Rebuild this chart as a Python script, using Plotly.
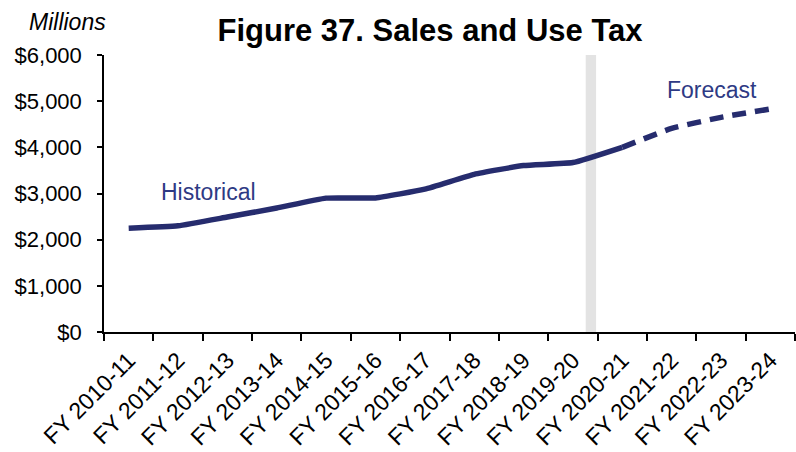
import plotly.graph_objects as go

# Fiscal years on the category axis
years = ["FY 2010-11", "FY 2011-12", "FY 2012-13", "FY 2013-14", "FY 2014-15",
         "FY 2015-16", "FY 2016-17", "FY 2017-18", "FY 2018-19", "FY 2019-20",
         "FY 2020-21", "FY 2021-22", "FY 2022-23", "FY 2023-24"]

# Sales and use tax revenue, $ millions
historical_years = years[:11]
historical_vals = [2250, 2300, 2490, 2685, 2900, 2905, 3095, 3415, 3605, 3670, 4000]
forecast_years = years[10:]
forecast_vals = [4000, 4410, 4650, 4830]

y_ticks = [0, 1000, 2000, 3000, 4000, 5000, 6000]
y_tick_text = ["${:,}".format(v) for v in y_ticks]

NAVY = "#262C6E"
LABEL_NAVY = "#2E3A84"
FONT = "Arial, Liberation Sans, sans-serif"

W, H = 796, 452
M_L, M_R, M_T, M_B = 103.5, 1, 54.7, 119.5
PLOT_W = W - M_L - M_R
PLOT_H = H - M_T - M_B


def px_to_paper(px, py):
    """Convert page pixel position to paper coordinates."""
    return (px - M_L) / PLOT_W, (H - M_B - py) / PLOT_H


fig = go.Figure()

fig.add_trace(go.Scatter(
    x=historical_years, y=historical_vals, mode="lines",
    line=dict(color=NAVY, width=5.5, shape="spline", smoothing=0.4),
    showlegend=False, hoverinfo="skip",
))
fig.add_trace(go.Scatter(
    x=forecast_years, y=forecast_vals, mode="lines",
    line=dict(color=NAVY, width=5.5, dash="14px,9px", shape="spline", smoothing=0.4),
    showlegend=False, hoverinfo="skip",
))

# Grey band separating actuals from the forecast period
fig.add_shape(type="rect", xref="x", yref="y", x0=9.26, x1=9.47, y0=0, y1=6000,
              fillcolor="#E3E3E3", line=dict(width=0), layer="below")

fig.add_annotation(x=1.62, y=3035, xref="x", yref="y", text="Historical",
                   showarrow=False, font=dict(family=FONT, size=23, color=LABEL_NAVY))
fig.add_annotation(x=11.82, y=5240, xref="x", yref="y", text="Forecast",
                   showarrow=False, font=dict(family=FONT, size=23, color=LABEL_NAVY))

mx, my = px_to_paper(67, 22)
fig.add_annotation(x=mx, y=my, xref="paper", yref="paper", text="<i>Millions</i>",
                   xanchor="center", yanchor="middle", showarrow=False,
                   font=dict(family=FONT, size=23, color="#000000"))

fig.update_layout(
    width=W, height=H,
    margin=dict(l=M_L, r=M_R, t=M_T, b=M_B, autoexpand=False),
    paper_bgcolor="white", plot_bgcolor="white",
    title=dict(text="<b>Figure 37. Sales and Use Tax</b>", x=430 / W, xanchor="center",
               y=1 - 30 / H, yanchor="middle",
               font=dict(family=FONT, size=31, color="#000000")),
    font=dict(family=FONT, color="#000000"),
)

fig.update_xaxes(
    type="category", categoryorder="array", categoryarray=years,
    range=[-0.5, 13.5], tickson="boundaries",
    ticks="outside", ticklen=7, tickwidth=1.5, tickcolor="#000000",
    showline=True, linecolor="#000000", linewidth=1.5,
    showgrid=False, zeroline=False, tickangle=-45,
    tickfont=dict(family=FONT, size=23, color="#000000"),
    ticklabelstandoff=4, automargin=False,
)
fig.update_yaxes(
    range=[0, 6000], tickvals=y_ticks, ticktext=y_tick_text,
    ticks="outside", ticklen=5, tickwidth=1.5, tickcolor="#000000",
    showline=True, linecolor="#000000", linewidth=1.5,
    showgrid=False, zeroline=False,
    tickfont=dict(family=FONT, size=22, color="#000000"),
    ticklabelstandoff=11, automargin=False,
)

fig.write_html("out.html")
